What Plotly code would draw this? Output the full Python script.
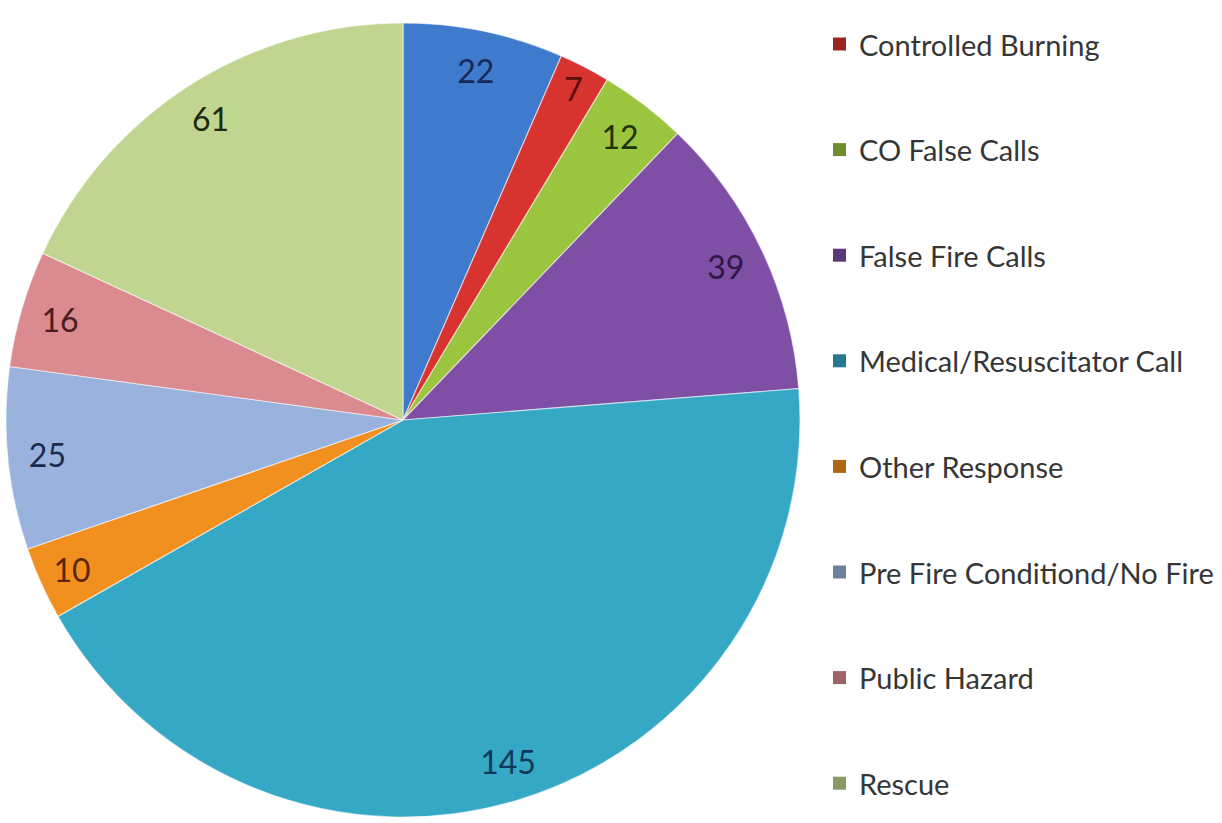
import plotly.graph_objects as go

# Incident counts by call type
categories = [
    "Building Fire",
    "Controlled Burning",
    "CO False Calls",
    "False Fire Calls",
    "Medical/Resuscitator Call",
    "Other Response",
    "Pre Fire Conditiond/No Fire",
    "Public Hazard",
    "Rescue",
]
counts = [22, 7, 12, 39, 145, 10, 25, 16, 61]

slice_colors = [
    "#3f7acd", "#d8342f", "#9cc53f", "#7f4fa5", "#35a8c6",
    "#f2901f", "#9ab3de", "#d98b8f", "#bfd590",
]
label_colors = [
    "#16295a", "#5a0c10", "#1e3208", "#2e1747", "#10395a",
    "#5a2608", "#1c2a4e", "#4a1c20", "#1b2a10",
]
# legend entries shown to the right of the pie
legend_items = list(range(1, 9))

def darker(hex_color, f=0.72):
    h = hex_color.lstrip("#")
    r, g, b = (int(h[i:i + 2], 16) for i in (0, 2, 4))
    return "rgb({},{},{})".format(int(r * f), int(g * f), int(b * f))

dom_x = [6 / 1222, 800 / 1222]
dom_y = [6 / 823, 800 / 823]

fig = go.Figure()

# the filled pie
fig.add_trace(go.Pie(
    labels=categories,
    values=counts,
    sort=False,
    direction="clockwise",
    rotation=0,
    marker=dict(colors=slice_colors,
                line=dict(color="rgba(255,255,255,0.55)", width=1.2)),
    textinfo="none",
    hoverinfo="label+value",
    domain=dict(x=dom_x, y=dom_y),
    showlegend=False,
))

# transparent ring carrying the value labels near the outer edge
fig.add_trace(go.Pie(
    labels=categories,
    values=counts,
    sort=False,
    direction="clockwise",
    rotation=0,
    hole=0.8,
    marker=dict(colors=["rgba(0,0,0,0)"] * len(counts),
                line=dict(width=0)),
    text=[str(v) for v in counts],
    textinfo="text",
    textposition="inside",
    insidetextorientation="horizontal",
    insidetextfont=dict(family="Lato", size=32, color=label_colors),
    hoverinfo="skip",
    domain=dict(x=dom_x, y=dom_y),
    showlegend=False,
))

# legend drawn as swatches plus labels
annotations = []
shapes = []
top_y = 44
step = 105.6
for k, i in enumerate(legend_items):
    yc = top_y + k * step
    shapes.append(dict(
        type="rect", xref="paper", yref="paper",
        x0=833 / 1222, x1=846 / 1222,
        y0=1 - (yc + 6.5) / 823, y1=1 - (yc - 6.5) / 823,
        fillcolor=darker(slice_colors[i]), line=dict(width=0),
    ))
    annotations.append(dict(
        xref="paper", yref="paper", x=857 / 1222, y=1 - yc / 823,
        xanchor="left", yanchor="middle", showarrow=False,
        text=categories[i],
        font=dict(family="Lato", size=29, color="#363636"),
    ))

fig.update_layout(
    width=1222, height=823,
    margin=dict(l=0, r=0, t=0, b=0),
    paper_bgcolor="white", plot_bgcolor="white",
    annotations=annotations, shapes=shapes,
)

fig.write_html("out.html")
